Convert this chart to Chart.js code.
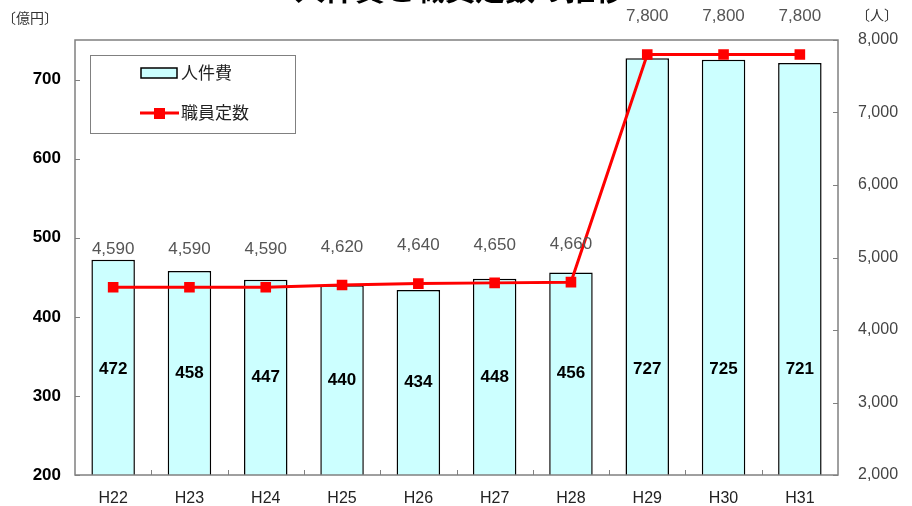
<!DOCTYPE html>
<html lang="ja">
<head>
<meta charset="utf-8">
<script src="https://cdn.jsdelivr.net/npm/chart.js@4"></script>
<style>
  html, body { margin: 0; padding: 0; background: #fff; }
  #wrap { width: 912px; height: 506px; }
</style>
</head>
<body>
<div id="wrap"><canvas id="costChart" width="912" height="506"></canvas></div>
<script>
// 年度別の人件費（億円）と職員定数（人）
const years = ['H22', 'H23', 'H24', 'H25', 'H26', 'H27', 'H28', 'H29', 'H30', 'H31'];
const personnelCost = [472, 458, 447, 440, 434, 448, 456, 727, 725, 721];
const staffCount = [4590, 4590, 4590, 4620, 4640, 4650, 4660, 7800, 7800, 7800];
const costTicks = [200, 300, 400, 500, 600, 700];
const staffTicks = [2000, 3000, 4000, 5000, 6000, 7000, 8000];

const JP_FONT = '"Noto Sans CJK JP", "Noto Sans", sans-serif';
const NUM_FONT = '"Liberation Sans", Arial, sans-serif';

// frame, inner tick marks, legend box and value labels
const decorations = {
    id: 'decorations',
    afterDraw(chart) {
        const ctx = chart.ctx;
        const area = chart.chartArea;
        const x = chart.scales.x;
        const yCost = chart.scales.yCost;
        const yStaff = chart.scales.yStaff;
        ctx.save();

        // plot frame
        ctx.strokeStyle = '#808080';
        ctx.lineWidth = 1.5;
        ctx.strokeRect(area.left, area.top, area.right - area.left, area.bottom - area.top);

        // tick marks pointing into the plot
        ctx.lineWidth = 1;
        costTicks.forEach(v => {
            const py = Math.round(yCost.getPixelForValue(v)) + 0.5;
            ctx.beginPath(); ctx.moveTo(area.left, py); ctx.lineTo(area.left + 5, py); ctx.stroke();
        });
        staffTicks.forEach(v => {
            const py = Math.round(yStaff.getPixelForValue(v)) + 0.5;
            ctx.beginPath(); ctx.moveTo(area.right - 5, py); ctx.lineTo(area.right, py); ctx.stroke();
        });
        for (let i = 1; i < years.length; i++) {
            const px = Math.round((x.getPixelForValue(i - 1) + x.getPixelForValue(i)) / 2) + 0.5;
            ctx.beginPath(); ctx.moveTo(px, area.bottom); ctx.lineTo(px, area.bottom - 5); ctx.stroke();
        }

        // bar values inside the bars
        ctx.fillStyle = '#000';
        ctx.font = 'bold 17px ' + NUM_FONT;
        ctx.textAlign = 'center';
        ctx.textBaseline = 'middle';
        personnelCost.forEach((v, i) => {
            const mid = Math.min((200 + v) / 2, 333);
            ctx.fillText(String(v), x.getPixelForValue(i), yCost.getPixelForValue(mid));
        });

        // staff count labels above the line
        ctx.fillStyle = '#555';
        ctx.font = '17px ' + NUM_FONT;
        staffCount.forEach((v, i) => {
            ctx.fillText(v.toLocaleString('en-US'), x.getPixelForValue(i), yStaff.getPixelForValue(v) - 38);
        });

        // unit captions
        ctx.fillStyle = '#333';
        ctx.font = '14px ' + JP_FONT;
        ctx.textAlign = 'left';
        ctx.fillText('〔億円〕', 2, 18);
        ctx.fillText('〔人〕', 856, 15);

        // heading, mostly above the top edge
        ctx.fillStyle = '#000';
        ctx.font = 'bold 30px ' + JP_FONT;
        ctx.textAlign = 'center';
        ctx.textBaseline = 'alphabetic';
        ctx.fillText('人件費と職員定数の推移', 460, 0);

        // legend box
        ctx.fillStyle = '#fff';
        ctx.fillRect(90, 55, 205, 78);
        ctx.strokeStyle = '#808080';
        ctx.lineWidth = 1;
        ctx.strokeRect(90.5, 55.5, 205, 78);

        ctx.fillStyle = '#ccffff';
        ctx.fillRect(141, 68, 36, 10);
        ctx.strokeStyle = '#000';
        ctx.lineWidth = 1.5;
        ctx.strokeRect(141, 68, 36, 10);

        ctx.strokeStyle = '#ff0000';
        ctx.lineWidth = 3;
        ctx.beginPath(); ctx.moveTo(140, 113); ctx.lineTo(179, 113); ctx.stroke();
        ctx.fillStyle = '#ff0000';
        ctx.fillRect(154, 108, 11, 11);

        ctx.fillStyle = '#222';
        ctx.font = '17px ' + JP_FONT;
        ctx.textAlign = 'left';
        ctx.textBaseline = 'middle';
        ctx.fillText('人件費', 181, 73);
        ctx.fillText('職員定数', 181, 113);

        ctx.restore();
    }
};

const ctx = document.getElementById('costChart').getContext('2d');
new Chart(ctx, {
    type: 'bar',
    data: {
        labels: years,
        datasets: [
            {
                type: 'line',
                label: '職員定数',
                data: staffCount,
                yAxisID: 'yStaff',
                borderColor: '#ff0000',
                backgroundColor: '#ff0000',
                borderWidth: 3,
                pointStyle: 'rect',
                pointRadius: 7.5,
                pointBorderWidth: 0,
                tension: 0,
                order: 0
            },
            {
                type: 'bar',
                label: '人件費',
                data: personnelCost,
                yAxisID: 'yCost',
                backgroundColor: '#ccffff',
                borderColor: '#000',
                borderWidth: 1.5,
                categoryPercentage: 1,
                barPercentage: 0.57,
                order: 1
            }
        ]
    },
    options: {
        responsive: false,
        animation: false,
        layout: { padding: { top: 40, left: 0, right: 0, bottom: 0 } },
        plugins: {
            legend: { display: false },
            tooltip: { enabled: false }
        },
        scales: {
            x: {
                offset: true,
                grid: { display: false },
                border: { display: false },
                ticks: { color: '#222', font: { family: NUM_FONT, size: 16 }, padding: 6 },
                afterFit(scale) { scale.height = 31; }
            },
            yCost: {
                position: 'left',
                min: 200,
                max: 750,
                afterBuildTicks(scale) { scale.ticks = costTicks.map(v => ({ value: v })); },
                grid: { drawOnChartArea: false, drawTicks: false },
                border: { display: false },
                ticks: { color: '#000', font: { family: NUM_FONT, size: 17, weight: 'bold' }, padding: 14 },
                afterFit(scale) { scale.width = 75; }
            },
            yStaff: {
                position: 'right',
                min: 2000,
                max: 8000,
                afterBuildTicks(scale) { scale.ticks = staffTicks.map(v => ({ value: v })); },
                grid: { drawOnChartArea: false, drawTicks: false },
                border: { display: false },
                ticks: {
                    color: '#444',
                    font: { family: NUM_FONT, size: 16 },
                    padding: 20,
                    callback: v => Number(v).toLocaleString('en-US')
                },
                afterFit(scale) { scale.width = 74; }
            }
        }
    },
    plugins: [decorations]
});
</script>
</body>
</html>
